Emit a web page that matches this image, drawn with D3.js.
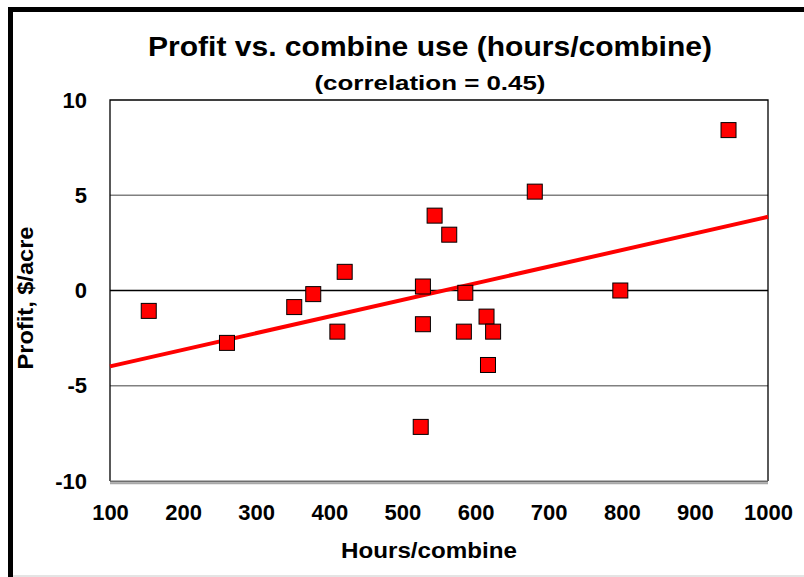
<!DOCTYPE html>
<html>
<head>
<meta charset="utf-8">
<script src="https://cdn.jsdelivr.net/npm/d3@7"></script>
<style>
    body { margin: 0; background: #fff; }
    text { font-family: "Liberation Sans", Arial, sans-serif; font-weight: bold; fill: #000; }
</style>
</head>
<body>
<div id="chart"></div>
<script>
// data
const hours  = [153, 260, 352, 378, 421, 411, 528, 528, 525, 544, 564, 586, 584, 615, 624, 617, 681, 798, 946];
const profit = [-1.07, -2.75, -0.87, -0.19, 0.98, -2.16, 0.21, -1.77, -7.16, 3.93, 2.93, -0.12, -2.16, -1.37, -2.16, -3.91, 5.19, 0.0, 8.42];

const xTicks = [100, 200, 300, 400, 500, 600, 700, 800, 900, 1000];
const yTicks = [-10, -5, 0, 5, 10];
const gridVals = [-5, 5];

const titleText = "Profit vs. combine use (hours/combine)";
const subText = "(correlation = 0.45)";
const xTitle = "Hours/combine";
const yTitle = "Profit, $/acre";

// setting param
const W = 804, H = 577;
const plot = {left: 110, right: 768, top: 100, bottom: 481};
const markSize = 15;

const svg = d3.select('#chart').append('svg')
    .attr('width', W)
    .attr('height', H);

const x = d3.scaleLinear().domain([100, 1000]).range([plot.left, plot.right]);
const y = d3.scaleLinear().domain([-10, 10]).range([plot.bottom, plot.top]);

// outer frame (only top + left are dark)
svg.append('rect').attr('x', 8).attr('y', 7).attr('width', W - 8).attr('height', 5).attr('fill', '#000');
svg.append('rect').attr('x', 8).attr('y', 7).attr('width', 5).attr('height', H - 7).attr('fill', '#000');
svg.append('rect').attr('x', 13).attr('y', H - 2).attr('width', W - 13).attr('height', 2).attr('fill', '#e4e4e4');

// titles
svg.append('text')
    .attr('x', 430).attr('y', 56)
    .attr('text-anchor', 'middle')
    .attr('font-size', 27)
    .attr('textLength', 564).attr('lengthAdjust', 'spacingAndGlyphs')
    .text(titleText);

svg.append('text')
    .attr('x', 430).attr('y', 90)
    .attr('text-anchor', 'middle')
    .attr('font-size', 20)
    .attr('textLength', 231).attr('lengthAdjust', 'spacingAndGlyphs')
    .text(subText);

// grid lines
svg.append('g')
    .selectAll('line')
    .data(gridVals)
    .enter()
    .append('line')
    .attr('x1', plot.left).attr('x2', plot.right)
    .attr('y1', d => y(d)).attr('y2', d => y(d))
    .attr('stroke', '#808080')
    .attr('stroke-width', 1.5);

// zero line
svg.append('line')
    .attr('x1', plot.left).attr('x2', plot.right)
    .attr('y1', y(0)).attr('y2', y(0))
    .attr('stroke', '#000')
    .attr('stroke-width', 1.5);

// plot border: black left/top/right, grey shadowed bottom
svg.append('path')
    .attr('d', `M ${plot.left} ${plot.bottom} L ${plot.left} ${plot.top} L ${plot.right} ${plot.top} L ${plot.right} ${plot.bottom}`)
    .attr('fill', 'none')
    .attr('stroke', '#000')
    .attr('stroke-width', 1.3);
svg.append('line')
    .attr('x1', plot.left).attr('x2', plot.right)
    .attr('y1', plot.bottom + 0.5).attr('y2', plot.bottom + 0.5)
    .attr('stroke', '#6e6e6e').attr('stroke-width', 2);
svg.append('line')
    .attr('x1', plot.left).attr('x2', plot.right)
    .attr('y1', plot.bottom + 2.5).attr('y2', plot.bottom + 2.5)
    .attr('stroke', '#a8a8a8').attr('stroke-width', 1.5);

// axes (labels only), plain hyphen for negatives
const xAxis = svg.append('g')
    .attr('transform', `translate(0, ${plot.bottom})`)
    .call(d3.axisBottom(x).tickValues(xTicks).tickSize(0).tickPadding(23).tickFormat(d => String(d)));
const yAxis = svg.append('g')
    .attr('transform', `translate(${plot.left}, 0)`)
    .call(d3.axisLeft(y).tickValues(yTicks).tickSize(0).tickPadding(23).tickFormat(d => String(d)));
[xAxis, yAxis].forEach(a => {
    a.select('.domain').remove();
    a.selectAll('text')
        .attr('font-size', 22)
        .attr('font-family', '"Liberation Sans", Arial, sans-serif')
        .attr('font-weight', 'bold')
        .attr('fill', '#000');
});

// axis titles
svg.append('text')
    .attr('x', 429).attr('y', 558)
    .attr('text-anchor', 'middle')
    .attr('font-size', 22)
    .attr('textLength', 176).attr('lengthAdjust', 'spacingAndGlyphs')
    .text(xTitle);

svg.append('text')
    .attr('transform', 'translate(33, 298) rotate(-90)')
    .attr('text-anchor', 'middle')
    .attr('font-size', 22)
    .attr('textLength', 143).attr('lengthAdjust', 'spacingAndGlyphs')
    .text(yTitle);

// least squares trend line
const mx = d3.mean(hours), my = d3.mean(profit);
let sxy = 0, sxx = 0;
hours.forEach((h, i) => {
    sxy += (h - mx) * (profit[i] - my);
    sxx += (h - mx) * (h - mx);
});
const slope = sxy / sxx;
const fit = h => my + slope * (h - mx);

svg.append('line')
    .attr('x1', x(100)).attr('y1', y(fit(100)))
    .attr('x2', x(1000)).attr('y2', y(fit(1000)))
    .attr('stroke', '#ff0000')
    .attr('stroke-width', 4);

// points
svg.append('g')
    .selectAll('rect')
    .data(hours.map((h, i) => ({h: h, p: profit[i]})))
    .enter()
    .append('rect')
    .attr('x', d => x(d.h) - markSize / 2)
    .attr('y', d => y(d.p) - markSize / 2)
    .attr('width', markSize)
    .attr('height', markSize)
    .attr('fill', '#ff0000')
    .attr('stroke', '#000')
    .attr('stroke-width', 1);
</script>
</body>
</html>
